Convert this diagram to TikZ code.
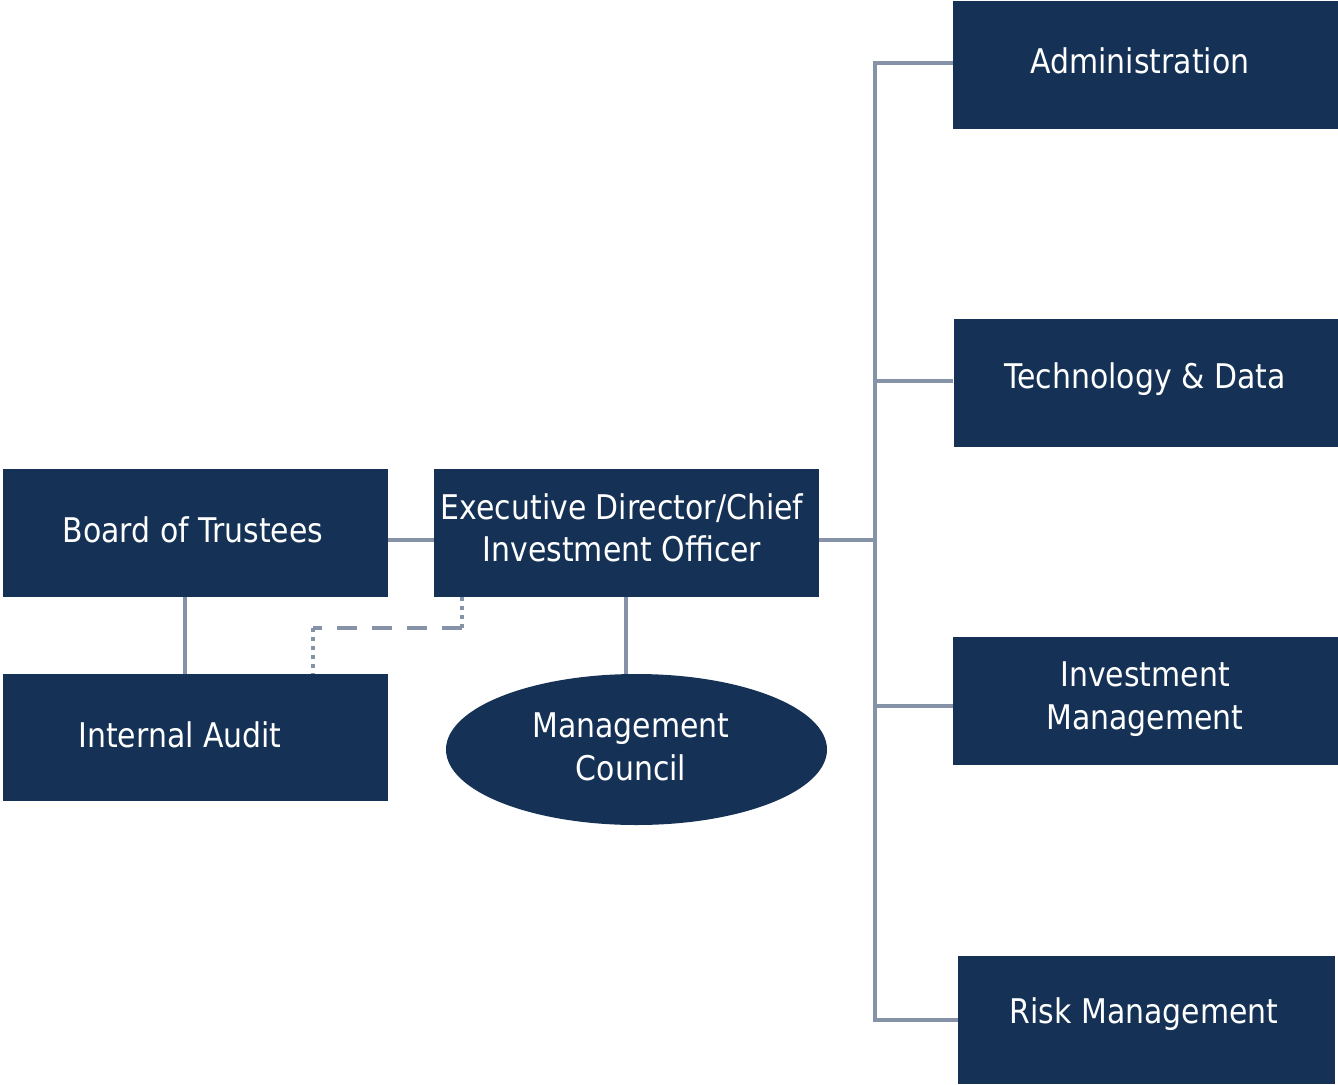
\documentclass[tikz,border=0pt]{standalone}
\usepackage{fontspec}
\setmainfont[FakeStretch=0.88]{DejaVu Sans}
\usetikzlibrary{shapes.geometric}
\definecolor{navy}{HTML}{153256}
\definecolor{linec}{HTML}{8592A8}
\begin{document}
\begin{tikzpicture}[x=1pt,y=-1pt,
  box/.style={fill=navy,minimum width=385pt,minimum height=128pt,inner sep=0pt},
  oval/.style={ellipse,fill=navy,minimum width=381pt,minimum height=151pt,inner sep=0pt},
  txt/.style={text=white,inner sep=0pt,align=center,font=\fontsize{34}{42.5}\selectfont},
  conn/.style={draw=linec,line width=3.5pt},
  dotv/.style={draw=linec,line width=3.5pt,dash pattern=on 4pt off 5pt},
  dashh/.style={draw=linec,line width=3.5pt,dash pattern=on 20pt off 15pt}]
\useasboundingbox (0,0) rectangle (1338,1084);
\coordinate (top) at (875,63);
\coordinate (bot) at (875,1020);
\coordinate (d1) at (462,628);
\coordinate (d2) at (313,628);
\node[box] (adm) at (1145.5,64.5) {};
\node[box] (tech) at (1146,382.5) {};
\node[box] (inv) at (1145.5,700.5) {};
\node[box,minimum width=377pt] (risk) at (1146.5,1019.5) {};
\node[box] (bot1) at (195.5,533) {};
\node[box] (ed) at (626.5,533) {};
\node[box,minimum height=127pt] (ia) at (195.5,737.5) {};
\node[oval] (mc) at (636.5,749.5) {};
\node[txt] (admt) at (1140,61) {Administration};
\node[txt] (techt) at (1145,379) {Technology \& Data};
\node[txt] (invt) at (1145,699) {Investment\\Management};
\node[txt] (riskt) at (1144,1014) {Risk Management};
\node[txt] (bott) at (193,530) {Board of Trustees};
\node[txt] (edt) at (622,528) {Executive Director/Chief\\Investment Officer};
\node[txt] (iat) at (180,735) {Internal Audit};
\node[txt] (mct) at (631,747) {Management\\Council};
\draw[conn] (adm.west |- top) -- (top) -- (bot) -- (risk.west |- bot);
\draw[conn] (tech.west |- 0,381) -- (875,381);
\draw[conn] (inv.west |- 0,706) -- (875,706);
\draw[conn] (ed.east |- 0,540) -- (875,540);
\draw[conn] (bot1.east |- 0,540) -- (ed.west |- 0,540);
\draw[conn] (bot1.south -| 185,0) -- (ia.north -| 185,0);
\draw[conn] (ed.south -| 626,0) -- (mc.north -| 626,0);
\draw[dotv] (ed.south -| d1) -- (d1);
\draw[dashh] (d1) -- (d2);
\draw[dotv] (d2) -- (ia.north -| d2);
\end{tikzpicture}
\end{document}
